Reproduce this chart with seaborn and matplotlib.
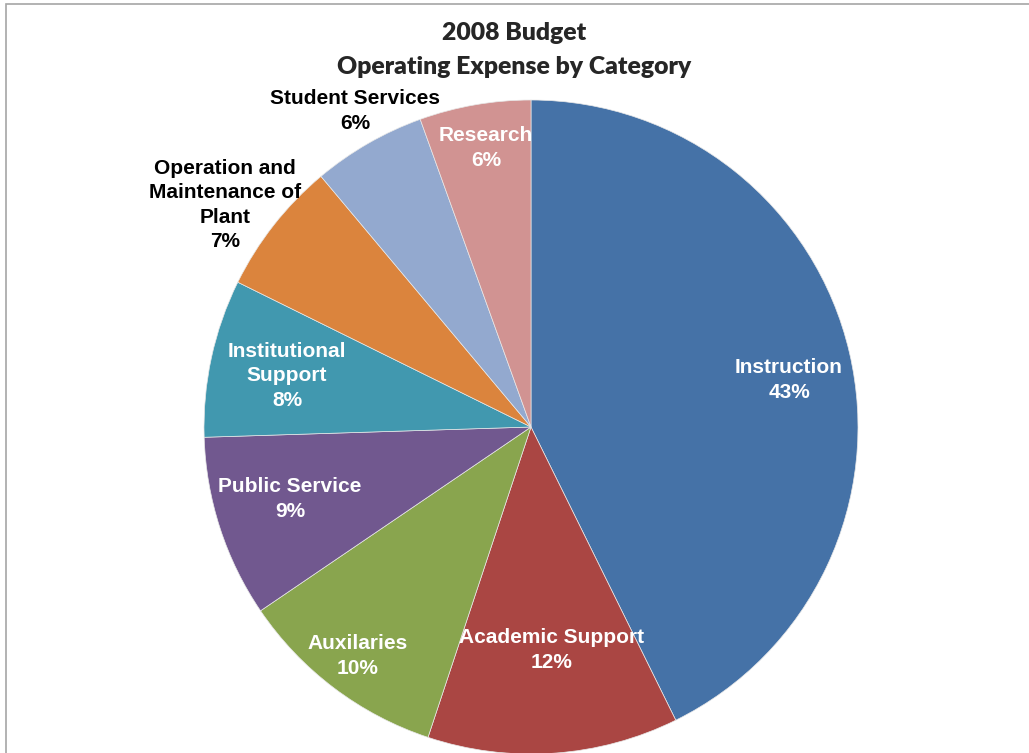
import matplotlib
matplotlib.use("Agg")
import matplotlib.pyplot as plt
from matplotlib.patches import Rectangle
import seaborn as sns

# Operating expense shares (percent), clockwise from 12 o'clock
categories = ["Instruction", "Academic Support", "Auxilaries", "Public Service",
              "Institutional\nSupport", "Operation and\nMaintenance of\nPlant",
              "Student Services", "Research"]
shares = [42.7, 12.4, 10.4, 9.0, 7.8, 6.6, 5.6, 5.5]
colors = ["#4572A7", "#AA4643", "#89A54E", "#71588F",
          "#4198AF", "#DB843D", "#93A9CF", "#D19392"]
label_colors = ["white", "white", "white", "white", "white", "black", "black", "white"]
label_pos = [(0.789, 0.144), (0.064, -0.682), (-0.529, -0.700), (-0.737, -0.220),
             (-0.746, 0.156), (-0.936, 0.679), (-0.538, 0.966), (-0.138, 0.853)]

sns.set_theme(style="white")
plt.rcParams["font.family"] = ["Liberation Sans", "DejaVu Sans"]

W, H = 1029, 753
cx, cy, R = 531, 427, 327
fig = plt.figure(figsize=(W / 100, H / 100), dpi=100)
fig.patch.set_facecolor("white")
ax = fig.add_axes([0, 0, 1, 1])

ax.pie(shares, colors=colors, startangle=90, counterclock=False, radius=1,
       wedgeprops=dict(edgecolor="#e8e8e8", linewidth=0.5))

ax.set_xlim(-cx / R, (W - cx) / R)
ax.set_ylim(-(H - cy) / R, cy / R)
ax.set_aspect("equal")
ax.axis("off")

total = sum(shares)
for name, val, (x, y), c in zip(categories, shares, label_pos, label_colors):
    ax.text(x, y, f"{name}\n{round(val / total * 100):.0f}%", ha="center", va="center",
            color=c, fontsize=15, fontweight="bold", linespacing=1.35)

for yy, line in [(33, "2008 Budget"), (67, "Operating Expense by Category")]:
    fig.text(0.5, 1 - yy / H, line, ha="center", va="center",
             fontsize=17.8, fontweight="heavy", family=["Lato", "DejaVu Sans"])

# chart-area frame
fig.patches.append(Rectangle((6 / W, -0.1), 1.2, 1.1 - 4 / H, transform=fig.transFigure,
                             fill=False, edgecolor="#a6a6a6", linewidth=1.2))

fig.savefig("out.png", dpi=100)
